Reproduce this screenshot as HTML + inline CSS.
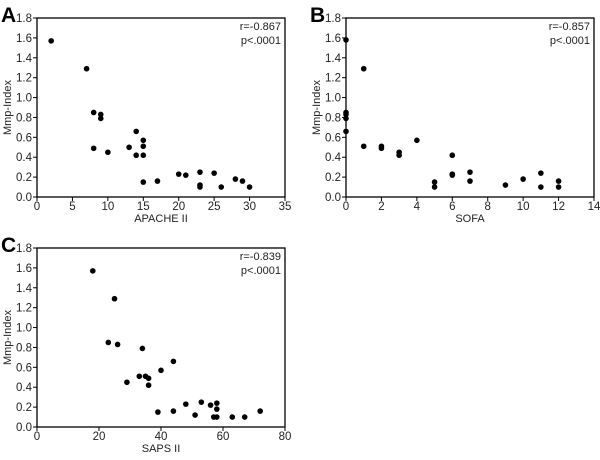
<!DOCTYPE html>
<html><head><meta charset="utf-8"><style>
body{margin:0;background:#fff;width:600px;height:455px;overflow:hidden}
svg{font-family:"Liberation Sans",Arial,sans-serif}
</style></head><body>
<svg id="c" width="600" height="455"></svg>
<script>
const aX=[2,7,8,9,9,8,10,13,14,14,15,15,15,15,17,20,21,23,23,23,25,26,28,29,30];
const aY=[1.57,1.29,0.85,0.83,0.79,0.49,0.45,0.50,0.66,0.42,0.57,0.51,0.42,0.15,0.16,0.23,0.22,0.25,0.12,0.10,0.24,0.10,0.18,0.16,0.10];
const bX=[0,0,0,0,0,1,1,2,2,3,3,4,5,5,6,6,6,7,7,9,10,11,11,12,12];
const bY=[1.58,0.85,0.83,0.79,0.66,1.29,0.51,0.51,0.49,0.45,0.42,0.57,0.15,0.10,0.42,0.23,0.22,0.25,0.16,0.12,0.18,0.24,0.10,0.16,0.10];
const cX=[18,25,23,26,34,44,40,33,35,36,29,36,39,44,48,51,53,56,58,58,57,58,63,67,72];
const cY=[1.57,1.29,0.85,0.83,0.79,0.66,0.57,0.51,0.51,0.49,0.45,0.42,0.15,0.16,0.23,0.12,0.25,0.22,0.24,0.18,0.10,0.10,0.10,0.10,0.16];
const yTicks=[0,0.2,0.4,0.6,0.8,1.0,1.2,1.4,1.6,1.8];
const aTicks=[0,5,10,15,20,25,30,35];
const bTicks=[0,2,4,6,8,10,12,14];
const cTicks=[0,20,40,60,80];
const svg=document.getElementById('c');
const NS='http://www.w3.org/2000/svg';
function mk(t,a,txt){const e=document.createElementNS(NS,t);for(const k in a)e.setAttribute(k,a[k]);if(txt!=null)e.textContent=txt;svg.appendChild(e);return e;}
function panel(id,L,R,T,B,xmax,xt,xs,ys,title,r){
 const sx=v=>L+v/xmax*(R-L), sy=v=>B-v/1.8*(B-T);
 let e=mk('rect',{x:L,y:T,width:R-L,height:B-T,fill:'none',stroke:'#000','stroke-width':1.3});
 
 yTicks.forEach(v=>{mk('line',{x1:L-4,x2:L,y1:sy(v),y2:sy(v),stroke:'#000'});
  e=mk('text',{x:L-5,y:sy(v)+4,'font-size':11.5,'text-anchor':'end',fill:'#222'},v.toFixed(1));
  });
 xt.forEach(v=>{mk('line',{x1:sx(v),x2:sx(v),y1:B,y2:B+4,stroke:'#000'});
  e=mk('text',{x:sx(v),y:B+13,'font-size':11.5,'text-anchor':'middle',fill:'#222'},v);
  });
 xs.forEach((v,i)=>{e=mk('circle',{cx:sx(v),cy:sy(ys[i]),r:2.8,fill:'#000'});
  });
 e=mk('text',{x:(L+R)/2,y:B+25,'font-size':11,'text-anchor':'middle',fill:'#222'},title);
 
 const yc=(T+B)/2,xx=L-26;
 e=mk('text',{x:xx,y:yc,'font-size':11,'text-anchor':'middle',fill:'#222',transform:`rotate(-90 ${xx} ${yc})`},'Mmp-Index');
 
 e=mk('text',{x:R-4,y:T+12,'font-size':11,'text-anchor':'end',fill:'#222'},'r=-'+r);
 
 e=mk('text',{x:R-4,y:T+26,'font-size':11,'text-anchor':'end',fill:'#222'},'p<.0001');
 
 e=mk('text',{x:L-36,y:T+4,'font-size':21,'font-weight':'bold',fill:'#000'},id.toUpperCase());
 
}
panel('a',37,285,18,197,35,aTicks,aX,aY,'APACHE II','0.867');
panel('b',346,594,18,197,14,bTicks,bX,bY,'SOFA','0.857');
panel('c',37,285,248,427,80,cTicks,cX,cY,'SAPS II','0.839');
</script>
</body></html>
